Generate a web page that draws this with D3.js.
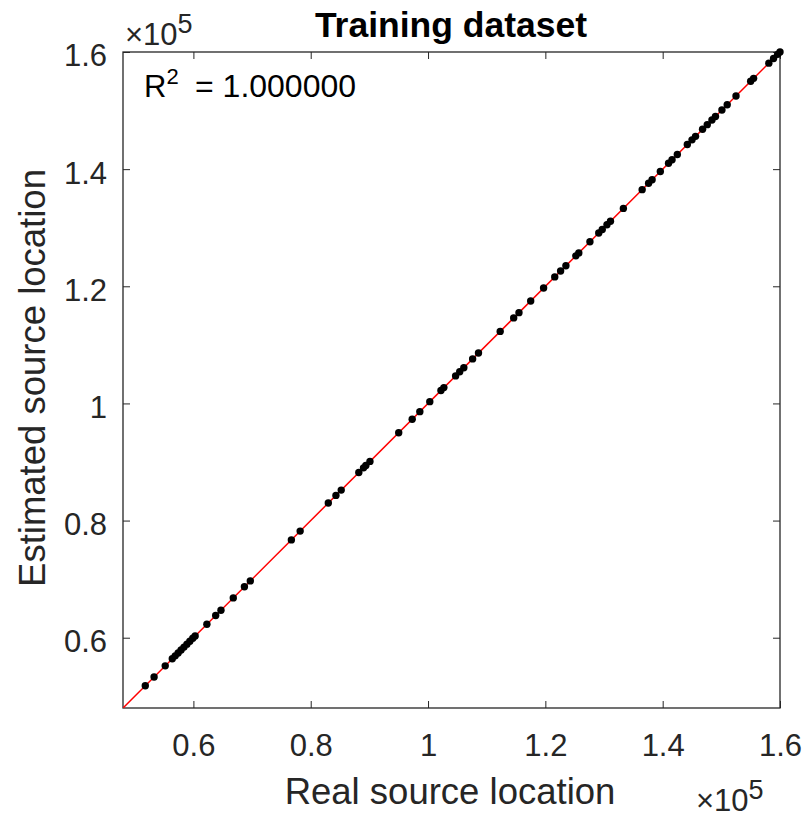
<!DOCTYPE html>
<html>
<head>
<meta charset="utf-8">
<script src="https://cdn.jsdelivr.net/npm/d3@7"></script>
<style>
  body { margin: 0; background: #fff; }
  svg text { font-family: "Liberation Sans", Arial, sans-serif; }
</style>
</head>
<body>
<svg id="chart" width="808" height="820"></svg>
<script>
// Source locations (x 1e5). Estimated equals real here (R^2 = 1).
const sourceLoc = [
  0.518, 0.533, 0.552, 0.564, 0.569, 0.574, 0.579, 0.584, 0.589, 0.594, 0.599, 0.603,
  0.623, 0.638, 0.647, 0.668, 0.687, 0.697,
  0.767, 0.782, 0.830, 0.843, 0.852, 0.882, 0.890, 0.894, 0.901, 0.950, 0.973,
  0.986, 1.003, 1.022, 1.027, 1.047, 1.054, 1.061, 1.076, 1.086, 1.123, 1.146,
  1.155, 1.175, 1.197, 1.216, 1.226, 1.235, 1.252, 1.257, 1.276, 1.291, 1.297,
  1.305, 1.311, 1.333, 1.365, 1.376, 1.382, 1.396, 1.410, 1.416, 1.425, 1.442,
  1.450, 1.456, 1.468, 1.476, 1.484, 1.490, 1.501, 1.510, 1.525, 1.550, 1.555,
  1.581, 1.589, 1.596, 1.600
];
const axisRange = [0.48, 1.6];
const tickValues = [0.6, 0.8, 1, 1.2, 1.4, 1.6];
const fitLine = [0.48, 1.6];

const svg = d3.select("#chart");
const margin = { left: 123, top: 52 };
const w = 657, h = 656;
const axisColor = "#262626";
const tickFont = 31;

const x = d3.scaleLinear().domain(axisRange).range([margin.left, margin.left + w]);
const y = d3.scaleLinear().domain(axisRange).range([margin.top + h, margin.top]);
const fmt = d => String(+d.toFixed(1));

// clip to axes box
svg.append("clipPath").attr("id", "clip")
  .append("rect").attr("x", margin.left).attr("y", margin.top).attr("width", w).attr("height", h);

// axes with inner ticks on all four sides
const tk = 7;
svg.append("g").attr("transform", `translate(0,${margin.top + h})`)
  .call(d3.axisBottom(x).tickValues(tickValues).tickFormat(fmt).tickSizeInner(-tk).tickSizeOuter(0).tickPadding(26))
  .call(g => g.select(".domain").remove())
  .call(g => g.selectAll("text").attr("font-size", tickFont).attr("fill", axisColor).attr("dy", "0.71em"))
  .call(g => g.selectAll("line").attr("stroke", axisColor));
svg.append("g").attr("transform", `translate(0,${margin.top})`)
  .call(d3.axisTop(x).tickValues(tickValues).tickFormat("").tickSizeInner(-tk).tickSizeOuter(0))
  .call(g => g.select(".domain").remove())
  .call(g => g.selectAll("line").attr("stroke", axisColor));
svg.append("g").attr("transform", `translate(${margin.left},0)`)
  .call(d3.axisLeft(y).tickValues(tickValues).tickFormat(fmt).tickSizeInner(-tk).tickSizeOuter(0).tickPadding(16))
  .call(g => g.select(".domain").remove())
  .call(g => g.selectAll("text").attr("font-size", tickFont).attr("fill", axisColor).attr("dy", "0.45em"))
  .call(g => g.selectAll("line").attr("stroke", axisColor));
svg.append("g").attr("transform", `translate(${margin.left + w},0)`)
  .call(d3.axisRight(y).tickValues(tickValues).tickFormat("").tickSizeInner(-tk).tickSizeOuter(0))
  .call(g => g.select(".domain").remove())
  .call(g => g.selectAll("line").attr("stroke", axisColor));

svg.append("rect")
  .attr("x", margin.left).attr("y", margin.top).attr("width", w).attr("height", h)
  .attr("fill", "none").attr("stroke", axisColor).attr("stroke-width", 1.3);

// y = x reference line
svg.append("line").attr("clip-path", "url(#clip)")
  .attr("x1", x(fitLine[0])).attr("y1", y(fitLine[0]))
  .attr("x2", x(fitLine[1])).attr("y2", y(fitLine[1]))
  .attr("stroke", "#ff0000").attr("stroke-width", 1.5);

svg.append("g").selectAll("circle").data(sourceLoc).join("circle")
  .attr("cx", d => x(d)).attr("cy", d => y(d)).attr("r", 3.7).attr("fill", "#000");

// title and labels
svg.append("text").attr("x", 451).attr("y", 37).attr("text-anchor", "middle")
  .attr("font-size", 35.5).attr("font-weight", "bold").attr("fill", "#000").text("Training dataset");
svg.append("text").attr("x", 450).attr("y", 804).attr("text-anchor", "middle")
  .attr("font-size", 36.5).attr("fill", axisColor).text("Real source location");
svg.append("text").attr("transform", "translate(45,378) rotate(-90)").attr("text-anchor", "middle")
  .attr("font-size", 36.5).attr("fill", axisColor).text("Estimated source location");

// exponent labels
function expLabel(px, py) {
  const t = svg.append("text").attr("x", px).attr("y", py).attr("font-size", tickFont).attr("fill", axisColor);
  t.append("tspan").text("\u00d710");
  t.append("tspan").attr("dy", -12).attr("font-size", 27).text("5");
}
expLabel(125, 45);
expLabel(696, 811);

// R^2 annotation
const r2 = svg.append("text").attr("x", 144).attr("y", 97).attr("font-size", 31).attr("fill", "#000");
r2.append("tspan").text("R");
r2.append("tspan").attr("dy", -13).attr("font-size", 22).text("2");
r2.append("tspan").attr("x", 195).attr("dy", 13).attr("font-size", 32).text("= 1.000000");
</script>
</body>
</html>
